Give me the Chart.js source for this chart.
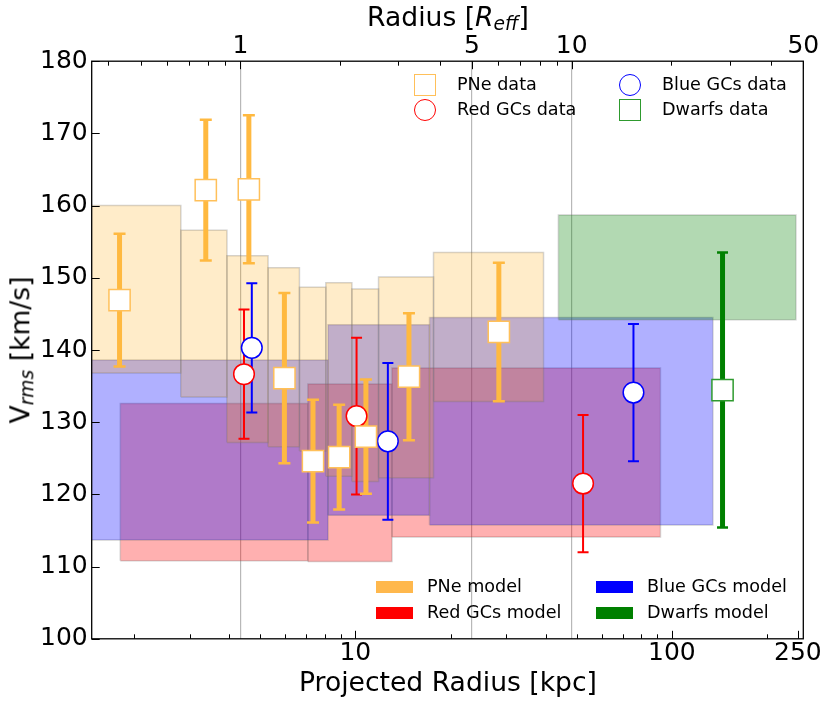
<!DOCTYPE html>
<html><head><meta charset="utf-8">
<script src="https://cdn.jsdelivr.net/npm/chart.js@4.4.1/dist/chart.umd.min.js"></script>
<style>
html,body{margin:0;padding:0;background:#fff;}
#wrap{position:relative;width:831px;height:706px;font-family:"DejaVu Sans",sans-serif;color:#000;overflow:hidden;}
canvas{position:absolute;left:0;top:0;}
.t{position:absolute;white-space:nowrap;line-height:1;}
.title{font-size:26.6px;}
.leg{font-size:17.6px;transform:translateY(-50%);}
.mk{position:absolute;box-sizing:border-box;transform:translate(-50%,-50%);}
.patch{position:absolute;width:37px;height:12px;transform:translateY(-50%);}
i{font-style:italic;}
.sub{font-size:0.7em;vertical-align:-0.2em;font-style:italic;}
</style></head><body>
<div id="wrap">
<canvas id="c" width="831" height="706"></canvas>
<div class="t title" style="left:448px;top:4px;transform:translateX(-50%);">Radius [<i>R</i><span class="sub">eff</span>]</div>
<div class="t title" style="left:448px;top:669px;transform:translateX(-50%);">Projected Radius [kpc]</div>
<div class="t title" style="left:22px;top:350px;transform:translate(-50%,-50%) rotate(-90deg);">V<span class="sub">rms</span> [km/s]</div>

<div class="mk" style="left:425px;top:85px;width:22px;height:22px;border:1.5px solid #FFC05A;"></div>
<div class="t leg" style="left:457px;top:85px;">PNe data</div>
<div class="mk" style="left:425px;top:110px;width:22px;height:22px;border:1.5px solid #FF0000;border-radius:50%;"></div>
<div class="t leg" style="left:457px;top:110px;">Red GCs data</div>
<div class="mk" style="left:630px;top:85px;width:22px;height:22px;border:1.5px solid #0000FF;border-radius:50%;"></div>
<div class="t leg" style="left:662px;top:85px;">Blue GCs data</div>
<div class="mk" style="left:630px;top:110px;width:22px;height:22px;border:1.5px solid #2E9A2E;"></div>
<div class="t leg" style="left:662px;top:110px;">Dwarfs data</div>

<div class="patch" style="left:376px;top:587px;background:#FFB84D;"></div>
<div class="t leg" style="left:427px;top:587px;">PNe model</div>
<div class="patch" style="left:376px;top:613px;background:#FF0000;"></div>
<div class="t leg" style="left:427px;top:613px;">Red GCs model</div>
<div class="patch" style="left:596px;top:587px;background:#0000FF;"></div>
<div class="t leg" style="left:647px;top:587px;">Blue GCs model</div>
<div class="patch" style="left:596px;top:613px;background:#008000;"></div>
<div class="t leg" style="left:647px;top:613px;">Dwarfs model</div>
</div>
<script>
// ---------------- data ----------------
const pneR   = [1.80, 3.37, 4.61, 5.97, 7.35, 8.89, 10.80, 14.77, 28.4];
const pneV   = [146.9, 162.15, 162.25, 136.1, 124.6, 125.15, 128.0, 136.3, 142.5];
const pneErr = [9.2, 9.75, 10.25, 11.8, 8.5, 7.25, 7.9, 8.8, 9.6];

const redR   = [4.45, 10.09, 52.4];
const redV   = [136.65, 130.85, 121.5];
const redErr = [8.95, 10.85, 9.5];

const blueR   = [4.71, 12.67, 75.6];
const blueV   = [140.3, 127.35, 134.1];
const blueErr = [8.95, 10.85, 9.5];

const dwR   = [144.5];
const dwV   = [134.45];
const dwErr = [19.05];

// model bins: edges (kpc), upper and lower velocity bounds
const pneEdges = [1.2, 2.81, 3.93, 5.30, 6.66, 8.07, 9.75, 11.84, 17.66, 39.3];
const pneTop   = [160.0, 156.6, 153.05, 151.4, 148.7, 149.3, 148.45, 150.1, 153.5];
const pneBot   = [136.8, 133.5, 127.2, 126.6, 126.0, 122.5, 121.8, 122.3, 132.85];

const redEdges = [1.81, 7.08, 13.05, 92.0];
const redTop   = [132.6, 135.3, 137.5];
const redBot   = [110.8, 110.7, 114.1];

const blueEdges = [1.2, 8.2, 17.15, 134.7];
const blueTop   = [138.6, 143.5, 144.5];
const blueBot   = [113.7, 117.1, 115.75];

const dwEdges = [43.8, 246.4];
const dwTop   = [158.7];
const dwBot   = [144.2];

// axes
const bottomTicks  = [2,3,4,5,6,7,8,9,10,20,30,40,50,60,70,80,90,100,200,250];
const bottomLabels = [10,100,250];
const topTicks  = [0.4,0.5,0.6,0.7,0.8,0.9,1,2,3,4,5,6,7,8,9,10,20,30,40,50];
const topLabels = [1,5,10,50];
const topGrid   = [1,5,10];
const yTicks = [100,110,120,130,140,150,160,170,180];

// ---------------- build datasets ----------------
const FONT = '"DejaVu Sans", sans-serif';
const datasets = [];
const edgeCol = 'rgba(110,110,110,0.3)';

function boxes(edges, tops, bots, fillCol, order){
  for (let i = 0; i < tops.length; i++){
    const x1 = edges[i], x2 = edges[i+1];
    datasets.push({
      data:[{x:x1,y:tops[i]},{x:x2,y:tops[i]}],
      showLine:true, borderWidth:0, pointRadius:0,
      backgroundColor:fillCol, fill:{value:bots[i]}, order:order
    });
    datasets.push({
      data:[{x:x1,y:bots[i]},{x:x1,y:tops[i]},{x:x2,y:tops[i]},{x:x2,y:bots[i]},{x:x1,y:bots[i]}],
      showLine:true, borderWidth:1.5, borderColor:edgeCol, pointRadius:0, fill:false, order:order
    });
  }
}
boxes(redEdges, redTop, redBot, 'rgba(255,0,0,0.31)', 20);
boxes(blueEdges, blueTop, blueBot, 'rgba(0,0,255,0.31)', 19);
boxes(pneEdges, pneTop, pneBot, 'rgba(255,165,0,0.21)', 18);
boxes(dwEdges, dwTop, dwBot, 'rgba(0,128,0,0.3)', 17);

function errbars(R, V, E, col, w, cap, capW){
  for (let i = 0; i < R.length; i++){
    datasets.push({
      data:[{x:R[i],y:V[i]-E[i]},{x:R[i],y:V[i]+E[i]}],
      showLine:true, borderColor:col, borderWidth:w, borderCapStyle:'butt',
      pointStyle:'line', pointRadius:cap, pointBorderWidth:capW,
      pointBorderColor:col, pointBackgroundColor:col, fill:false, order:5
    });
  }
}
errbars(pneR, pneV, pneErr, '#FFB940', 5, 6, 2.5);
errbars(redR, redV, redErr, '#FF0000', 2, 5.5, 2);
errbars(blueR, blueV, blueErr, '#0000FF', 2, 5.5, 2);
errbars(dwR, dwV, dwErr, '#008000', 5, 5.5, 2.5);

function markers(R, V, style, col, radius){
  datasets.push({
    data:R.map((r,i)=>({x:r,y:V[i]})),
    showLine:false, pointStyle:style, pointRadius:radius, pointBorderWidth:1.5,
    pointBorderColor:col, pointBackgroundColor:'#FFFFFF', order:1
  });
}
markers(pneR, pneV, 'rect', '#FFC05A', 15);
markers(redR, redV, 'circle', '#FF0000', 10.3);
markers(blueR, blueV, 'circle', '#0000FF', 10.3);
markers(dwR, dwV, 'rect', '#2E9A2E', 15);

// ---------------- plugins ----------------
const frameTicks = {
  id:'frameTicks',
  afterDraw(chart){
    const {ctx, chartArea:a, scales} = chart;
    ctx.save();
    ctx.strokeStyle = '#000'; ctx.lineWidth = 1;
    const sx = scales.x, st = scales.x2, sy = scales.y;
    sx.ticks.forEach(t => {
      const p = Math.round(sx.getPixelForValue(t.value)) + 0.5;
      const L = bottomLabels.includes(t.value) ? 8 : 4.5;
      ctx.beginPath(); ctx.moveTo(p, a.bottom); ctx.lineTo(p, a.bottom - L); ctx.stroke();
    });
    st.ticks.forEach(t => {
      const p = Math.round(st.getPixelForValue(t.value)) + 0.5;
      const L = topLabels.includes(t.value) ? 8 : 4.5;
      ctx.beginPath(); ctx.moveTo(p, a.top); ctx.lineTo(p, a.top + L); ctx.stroke();
    });
    sy.ticks.forEach(t => {
      const p = Math.round(sy.getPixelForValue(t.value)) + 0.5;
      ctx.beginPath(); ctx.moveTo(a.left, p); ctx.lineTo(a.left + 8, p); ctx.stroke();
    });
    ctx.lineWidth = 1.3;
    ctx.strokeRect(a.left, a.top, a.right - a.left, a.bottom - a.top);
    ctx.restore();
  }
};

const tickFont = {family:FONT, size:25};

new Chart(document.getElementById('c'), {
  type:'scatter',
  data:{datasets},
  options:{
    responsive:false, animation:false, devicePixelRatio:1,
    layout:{padding:{left:0, right:27.7, top:0, bottom:0}},
    plugins:{legend:{display:false}, tooltip:{enabled:false}},
    scales:{
      x:{
        type:'logarithmic', position:'bottom', min:1.47, max:260,
        afterBuildTicks:s => { s.ticks = bottomTicks.map(v => ({value:v, major:bottomLabels.includes(v)})); },
        afterFit:s => { s.height = 67.2; },
        ticks:{autoSkip:false, maxRotation:0, minRotation:0, padding:0, color:'#000', font:tickFont,
          callback:v => bottomLabels.includes(v) ? String(v) : ''},
        grid:{display:false, drawTicks:false},
        border:{display:false}
      },
      x2:{
        type:'logarithmic', position:'top', min:0.356, max:50,
        afterBuildTicks:s => { s.ticks = topTicks.map(v => ({value:v, major:topLabels.includes(v)})); },
        afterFit:s => { s.height = 61.2; },
        ticks:{autoSkip:false, maxRotation:0, minRotation:0, padding:0, color:'#000', font:tickFont,
          callback:v => topLabels.includes(v) ? String(v) : ''},
        grid:{display:true, drawTicks:false, drawOnChartArea:true, lineWidth:1.2,
          color:c => (c.tick && topGrid.includes(c.tick.value)) ? 'rgba(160,160,160,0.75)' : 'rgba(0,0,0,0)'},
        border:{display:false}
      },
      y:{
        type:'linear', position:'left', min:100, max:180,
        afterBuildTicks:s => { s.ticks = yTicks.map(v => ({value:v})); },
        afterFit:s => { s.width = 91.7; },
        ticks:{padding:4, color:'#000', font:tickFont},
        grid:{display:false, drawTicks:false},
        border:{display:false}
      }
    }
  },
  plugins:[frameTicks]
});
</script>
</body></html>
